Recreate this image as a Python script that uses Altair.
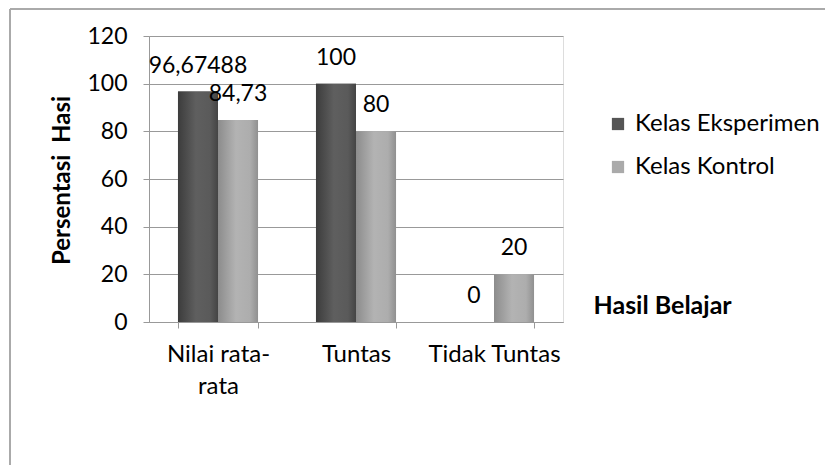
import altair as alt
import pandas as pd

categories = ["Nilai rata-rata", "Tuntas", "Tidak Tuntas"]
series = ["Kelas Eksperimen", "Kelas Kontrol"]
eksperimen = [96.67488, 100, 0]
kontrol = [84.73, 80, 20]
eksperimen_labels = ["96,67488", "100", "0"]
kontrol_labels = ["84,73", "80", "20"]

rows = []
for i, c in enumerate(categories):
    rows.append({"kategori": c, "kelas": series[0], "nilai": eksperimen[i], "label": eksperimen_labels[i]})
    rows.append({"kategori": c, "kelas": series[1], "nilai": kontrol[i], "label": kontrol_labels[i]})
df = pd.DataFrame(rows)

FONT = "Lato"
W, H = 414, 286
PAD_L, PAD_T, PAD_R, PAD_B = 141, 28, 262, 143

x_enc = alt.X(
    "kategori:N",
    sort=categories,
    scale=alt.Scale(paddingInner=0.42, paddingOuter=0.21),
    axis=alt.Axis(
        title="Hasil Belajar",
        titleX=444, titleY=-17, titleAlign="left", titleBaseline="middle",
        titleFont=FONT, titleFontSize=25, titleFontWeight="bold", titleColor="black",
        labelAngle=0, labelFont=FONT, labelFontSize=24, labelColor="black",
        labelPadding=14, labelLineHeight=32,
        labelExpr="datum.value == 'Nilai rata-rata' ? ['Nilai rata-', 'rata'] : datum.value",
        tickBand="extent", tickSize=6, tickColor="#999999", domainColor="#999999",
        grid=False,
    ),
)
y_enc = alt.Y(
    "nilai:Q",
    scale=alt.Scale(domain=[0, 120]),
    axis=alt.Axis(
        values=[0, 20, 40, 60, 80, 100, 120],
        title="Persentasi\u00a0 Hasi",
        titleX=-87, titleY=144, titleAngle=270, titleAlign="center", titleBaseline="middle",
        titleFont=FONT, titleFontSize=24, titleFontWeight="bold", titleColor="black",
        labelFont=FONT, labelFontSize=23, labelColor="black", labelPadding=16,
        tickSize=6, tickColor="#999999", domainColor="#999999",
        grid=True, gridColor="#999999", gridWidth=1,
    ),
)
xoff = alt.XOffset("kelas:N", sort=series, scale=alt.Scale(paddingInner=0, paddingOuter=0))

base = alt.Chart(df)

legend_bars = base.mark_bar().encode(
    x=x_enc, y=y_enc, xOffset=xoff,
    color=alt.Color(
        "kelas:N", sort=series,
        scale=alt.Scale(domain=series, range=["#555555", "#aaaaaa"]),
        legend=alt.Legend(
            title=None, orient="none", legendX=457, legendY=76,
            labelFont=FONT, labelFontSize=24, labelColor="black", labelLimit=0,
            symbolType="square", symbolSize=150, symbolStrokeWidth=0,
            rowPadding=19, labelOffset=5,
        ),
    ),
)

dark_grad = alt.Gradient(
    gradient="linear", x1=0, x2=1, y1=0, y2=0,
    stops=[
        alt.GradientStop(color="#3c3c3c", offset=0),
        alt.GradientStop(color="#5f5f5f", offset=0.45),
        alt.GradientStop(color="#5a5a5a", offset=0.8),
        alt.GradientStop(color="#444444", offset=1),
    ],
)
light_grad = alt.Gradient(
    gradient="linear", x1=0, x2=1, y1=0, y2=0,
    stops=[
        alt.GradientStop(color="#8c8c8c", offset=0),
        alt.GradientStop(color="#b3b3b3", offset=0.45),
        alt.GradientStop(color="#adadad", offset=0.8),
        alt.GradientStop(color="#909090", offset=1),
    ],
)

dark_bars = base.transform_filter(alt.datum.kelas == series[0]).mark_bar(color=dark_grad).encode(
    x=x_enc, y=y_enc, xOffset=xoff
)
light_bars = base.transform_filter(alt.datum.kelas == series[1]).mark_bar(color=light_grad).encode(
    x=x_enc, y=y_enc, xOffset=xoff
)

labels = base.mark_text(font=FONT, fontSize=23, color="black", baseline="alphabetic", dy=-19).encode(
    x=x_enc, y=y_enc, xOffset=xoff, text="label:N"
)

frame_top = base.mark_rule(color="#aaaaaa", strokeWidth=2).encode(
    x=alt.value(-139), x2=alt.value(W + PAD_R), y=alt.value(-27)
)
frame_left = base.mark_rule(color="#aaaaaa", strokeWidth=2).encode(
    x=alt.value(-139), y=alt.value(-27), y2=alt.value(H + PAD_B)
)

chart = alt.layer(
    legend_bars, dark_bars, light_bars, labels, frame_top, frame_left
).properties(
    width=W, height=H,
    autosize=alt.AutoSizeParams(type="none"),
    padding={"left": PAD_L, "top": PAD_T, "right": PAD_R, "bottom": PAD_B},
).configure_view(stroke=None).configure(background="white")

chart.save("out.html", embed_options={"renderer": "svg", "actions": False})
